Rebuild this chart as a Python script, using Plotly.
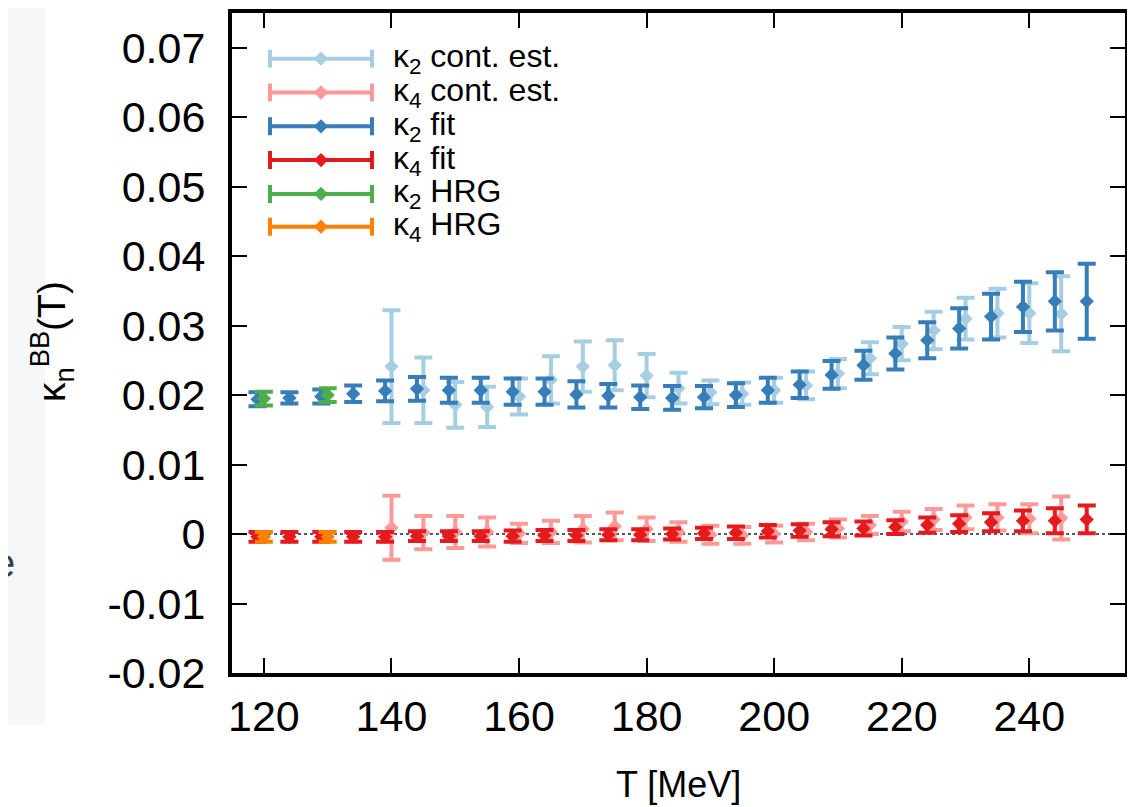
import plotly.graph_objects as go

# ---------------- data ----------------
T_fit = [119, 124, 129, 134, 139, 144, 149, 154, 159, 164, 169, 174, 179, 184,
         189, 194, 199, 204, 209, 214, 219, 224, 229, 234, 239, 244, 249]
k2_fit = [0.0194, 0.0196, 0.0198, 0.0202, 0.0206, 0.0209, 0.0207, 0.0207, 0.0205,
          0.0205, 0.0201, 0.0199, 0.0197, 0.0196, 0.0197, 0.0200, 0.0207, 0.0215,
          0.0229, 0.0243, 0.0260, 0.0279, 0.0296, 0.0313, 0.0327, 0.0335, 0.0335]
k2_fit_err = [0.0010, 0.0008, 0.0010, 0.0012, 0.0015, 0.0017, 0.0018, 0.0018, 0.0019,
              0.0019, 0.0019, 0.0017, 0.0017, 0.0017, 0.0016, 0.0017, 0.0018, 0.0019,
              0.0020, 0.0021, 0.0023, 0.0026, 0.0029, 0.0033, 0.0036, 0.0042, 0.0054]
k4_fit = [-0.0004, -0.0004, -0.0004, -0.0004, -0.0004, -0.0003, -0.0003, -0.0003, -0.0003,
          -0.0002, -0.0002, -0.0001, -0.0001, 0.0000, 0.0001, 0.0002, 0.0004, 0.0005,
          0.0007, 0.0008, 0.0010, 0.0013, 0.0015, 0.0017, 0.0019, 0.0019, 0.0021]
k4_fit_err = [0.0007, 0.0007, 0.0007, 0.0007, 0.0007, 0.0007, 0.0007, 0.0007, 0.0008,
              0.0008, 0.0008, 0.0008, 0.0008, 0.0008, 0.0008, 0.0009, 0.0009, 0.0009,
              0.0010, 0.0010, 0.0010, 0.0011, 0.0012, 0.0013, 0.0015, 0.0018, 0.0020]

T_cont = [140, 145, 150, 155, 160, 165, 170, 175, 180, 185, 190,
          195, 200, 205, 210, 215, 220, 225, 230, 235, 240, 245]
k2_cont = [0.0241, 0.0207, 0.0186, 0.0183, 0.0198, 0.0222, 0.0241, 0.0243, 0.0228, 0.0210, 0.0204,
           0.0202, 0.0207, 0.0214, 0.0231, 0.0253, 0.0274, 0.0293, 0.0310, 0.0318, 0.0318, 0.0317]
k2_cont_err = [0.0081, 0.0047, 0.0033, 0.0029, 0.0026, 0.0034, 0.0036, 0.0036, 0.0031, 0.0022, 0.0017,
               0.0016, 0.0018, 0.0020, 0.0021, 0.0023, 0.0024, 0.0027, 0.0030, 0.0035, 0.0043, 0.0054]
k4_cont = [0.0009, 0.0002, 0.0003, 0.0003, 0.0001, 0.0003, 0.0007, 0.0011, 0.0007, 0.0003, -0.0001,
           -0.0002, 0.0000, 0.0003, 0.0008, 0.0013, 0.0018, 0.0021, 0.0024, 0.0024, 0.0022, 0.0023]
k4_cont_err = [0.0046, 0.0024, 0.0023, 0.0021, 0.0014, 0.0016, 0.0019, 0.0020, 0.0017, 0.0014, 0.0013,
               0.0012, 0.0012, 0.0012, 0.0013, 0.0013, 0.0014, 0.0015, 0.0017, 0.0019, 0.0021, 0.0031]

T_hrg = [120, 130]
k2_hrg = [0.0195, 0.0200]
k2_hrg_err = [0.0010, 0.0010]
k4_hrg = [-0.0004, -0.0004]
k4_hrg_err = [0.0007, 0.0007]

x_ticks = [120, 140, 160, 180, 200, 220, 240]
y_ticks = [-0.02, -0.01, 0, 0.01, 0.02, 0.03, 0.04, 0.05, 0.06, 0.07]
y_ticktext = ["-0.02", "-0.01", "0", "0.01", "0.02", "0.03", "0.04", "0.05", "0.06", "0.07"]

legend_labels = ["κ<sub>2</sub> cont. est.", "κ<sub>4</sub> cont. est.", "κ<sub>2</sub> fit",
                 "κ<sub>4</sub> fit", "κ<sub>2</sub> HRG", "κ<sub>4</sub> HRG"]

# ---------------- styling ----------------
C_LB = "#a6cee3"
C_LR = "#fb9a99"
C_B = "#377eb8"
C_R = "#e41a1c"
C_G = "#4daf4a"
C_O = "#ff7f00"
FONT = "Liberation Sans, Arial, Helvetica, sans-serif"

OFF = 8  # default page body margin of the html page
W, H = 1135 - OFF, 807 - OFF
# target frame in window pixels: left 232, right 1125, top 9, bottom 673
ML, MT = 232 - OFF, 9 - OFF
MR = (OFF + W) - 1125
MB = (OFF + H) - 673
PW, PH = W - ML - MR, H - MT - MB


def px2fx(px):
    """window pixel x -> paper fraction"""
    return (px - OFF - ML) / PW


def py2fy(py):
    """window pixel y -> paper fraction"""
    return (OFF + H - MB - py) / PH


fig = go.Figure()

series = [
    (T_cont, k2_cont, k2_cont_err, C_LB),
    (T_cont, k4_cont, k4_cont_err, C_LR),
    (T_fit, k2_fit, k2_fit_err, C_B),
    (T_fit, k4_fit, k4_fit_err, C_R),
    (T_hrg, k2_hrg, k2_hrg_err, C_G),
    (T_hrg, k4_hrg, k4_hrg_err, C_O),
]

for xs, ys, es, col in series:
    fig.add_trace(go.Scatter(
        x=xs, y=ys, mode="markers",
        marker=dict(symbol="diamond", size=11, color=col, line=dict(width=0)),
        error_y=dict(type="data", array=es, visible=True, color=col, thickness=4, width=9),
        showlegend=False, hoverinfo="skip",
    ))

# ---------------- manual legend (gnuplot-style samples) ----------------
leg_rows = [55, 89, 123, 157, 191, 224]
leg_x0, leg_x1, leg_text_x = 270, 372, 391
half = (leg_x1 - leg_x0) / 2 / PW
for (xs, ys, es, col), lab, ry in zip(series, legend_labels, leg_rows):
    fig.add_trace(go.Scatter(
        x=[px2fx((leg_x0 + leg_x1) / 2)], y=[py2fy(ry)], xaxis="x2", yaxis="y2",
        mode="markers",
        marker=dict(symbol="diamond", size=11, color=col, line=dict(width=0)),
        error_x=dict(type="constant", value=half, visible=True, color=col, thickness=4, width=9),
        showlegend=False, hoverinfo="skip",
    ))
    fig.add_annotation(
        x=px2fx(leg_text_x), y=py2fy(ry), xref="paper", yref="paper",
        text=lab, showarrow=False, xanchor="left", yanchor="middle",
        font=dict(family=FONT, size=32, color="black"),
    )

# zero reference line
fig.add_shape(type="line", xref="paper", x0=0, x1=1, yref="y", y0=0, y1=0,
              line=dict(color="#222222", width=1.5, dash="dot"), layer="below")

# left grey strip (page artefact) and clipped letter
fig.add_shape(type="rect", xref="paper", yref="paper",
              x0=px2fx(0), x1=px2fx(45), y0=py2fy(725), y1=py2fy(0),
              fillcolor="#f6f7f8", line=dict(width=0), layer="below")
fig.add_annotation(x=px2fx(17), y=py2fy(562), xref="paper", yref="paper",
                   text="e", showarrow=False, xanchor="right", yanchor="middle",
                   font=dict(family=FONT, size=40, color="#34424d"))

# axis titles
fig.add_annotation(x=0.5, y=py2fy(785), xref="paper", yref="paper",
                   text="T [MeV]", showarrow=False, xanchor="center", yanchor="middle",
                   font=dict(family=FONT, size=36, color="black"))
fig.add_annotation(x=px2fx(52), y=py2fy(340), xref="paper", yref="paper",
                   text="κ<sub>n</sub><sup>BB</sup>(T)", textangle=-90, showarrow=False,
                   xanchor="center", yanchor="middle",
                   font=dict(family=FONT, size=39, color="black"))

axis_common = dict(
    showgrid=False, zeroline=False, showline=True, linecolor="black", linewidth=4,
    mirror="allticks", ticks="inside", ticklen=15, tickwidth=2, tickcolor="black",
    tickfont=dict(family=FONT, size=43, color="black"),
)

fig.update_layout(
    width=W, height=H,
    margin=dict(l=ML, r=MR, t=MT, b=MB, pad=0),
    paper_bgcolor="white", plot_bgcolor="white",
    showlegend=False,
    xaxis=dict(range=[115, 255], tickvals=x_ticks, ticklabelstandoff=2, **axis_common),
    yaxis=dict(range=[-0.02, 0.075], tickvals=y_ticks, ticktext=y_ticktext,
               ticklabelstandoff=14, **axis_common),
    xaxis2=dict(overlaying="x", range=[0, 1], visible=False),
    yaxis2=dict(overlaying="y", range=[0, 1], visible=False),
)

fig.write_html("out.html")
